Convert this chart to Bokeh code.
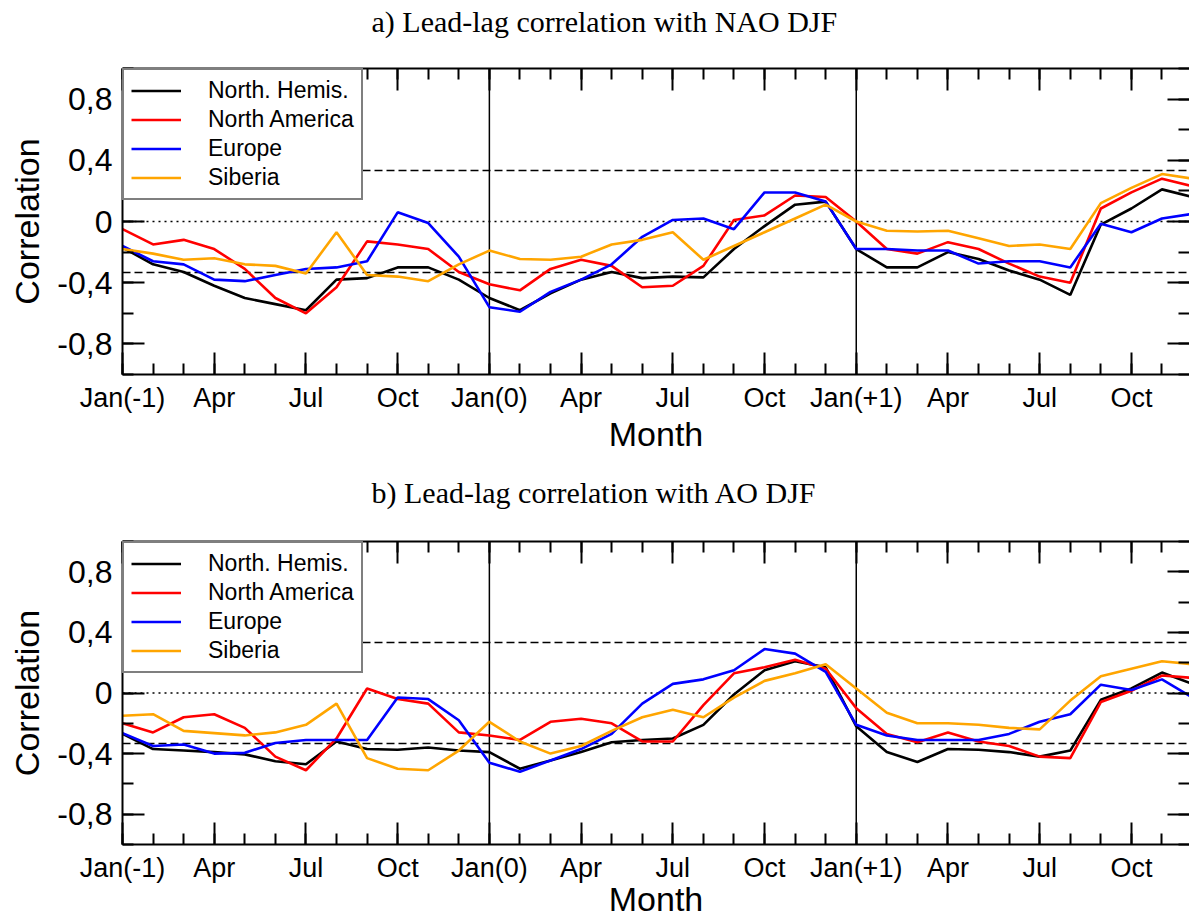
from bokeh.plotting import figure
from bokeh.models import (FixedTicker, LinearAxis, Span, Legend, LegendItem, Range1d, Title)
from bokeh.layouts import column
from bokeh.embed import file_html
from bokeh.resources import INLINE

# ---------------- data ----------------
months = list(range(36))  # Jan(-1) ... Dec(+1)
x_tick_positions = [0, 3, 6, 9, 12, 15, 18, 21, 24, 27, 30, 33]
x_tick_labels = ["Jan(-1)", "Apr", "Jul", "Oct", "Jan(0)", "Apr", "Jul", "Oct",
                 "Jan(+1)", "Apr", "Jul", "Oct"]
y_tick_positions = [-0.8, -0.4, 0, 0.4, 0.8]
y_tick_labels = ["-0,8", "-0,4", "0", "0,4", "0,8"]
y_minor_positions = [-1.0, -0.8, -0.6, -0.4, -0.2, 0, 0.2, 0.4, 0.6, 0.8, 1.0]
year_boundaries = [12, 24]
significance = 0.334

series_names = ["North. Hemis.", "North America", "Europe", "Siberia"]
series_colors = ["black", "red", "blue", "orange"]

nao_nh = [-0.17, -0.28, -0.33, -0.42, -0.50, -0.54, -0.58, -0.38, -0.37, -0.30, -0.30, -0.38,
          -0.50, -0.58, -0.47, -0.38, -0.33, -0.37, -0.36, -0.365, -0.18, -0.03, 0.11, 0.13,
          -0.18, -0.30, -0.30, -0.20, -0.245, -0.32, -0.38, -0.48, -0.02, 0.085, 0.21, 0.16]
nao_na = [-0.05, -0.15, -0.12, -0.18, -0.31, -0.50, -0.60, -0.43, -0.13, -0.15, -0.18, -0.33,
          -0.41, -0.45, -0.31, -0.25, -0.29, -0.43, -0.42, -0.29, 0.01, 0.04, 0.17, 0.16,
          0.0, -0.18, -0.21, -0.135, -0.18, -0.275, -0.36, -0.40, 0.085, 0.19, 0.28, 0.23]
nao_eu = [-0.16, -0.26, -0.28, -0.38, -0.39, -0.35, -0.31, -0.30, -0.26, 0.06, -0.01, -0.23,
          -0.56, -0.59, -0.46, -0.38, -0.28, -0.10, 0.01, 0.02, -0.05, 0.19, 0.19, 0.13,
          -0.18, -0.18, -0.19, -0.19, -0.275, -0.26, -0.26, -0.30, -0.015, -0.07, 0.02, 0.05]
nao_si = [-0.18, -0.21, -0.25, -0.24, -0.28, -0.29, -0.34, -0.07, -0.35, -0.36, -0.39, -0.28,
          -0.19, -0.245, -0.25, -0.23, -0.15, -0.12, -0.07, -0.25, -0.16, -0.07, 0.02, 0.11,
          0.0, -0.06, -0.065, -0.06, -0.11, -0.16, -0.15, -0.18, 0.12, 0.22, 0.31, 0.28]

ao_nh = [-0.27, -0.37, -0.38, -0.39, -0.405, -0.45, -0.47, -0.32, -0.37, -0.375, -0.36, -0.38,
         -0.39, -0.50, -0.445, -0.39, -0.325, -0.31, -0.30, -0.21, -0.01, 0.15, 0.21, 0.17,
         -0.22, -0.39, -0.455, -0.37, -0.375, -0.39, -0.42, -0.38, -0.045, 0.03, 0.135, 0.06]
ao_na = [-0.20, -0.26, -0.16, -0.14, -0.23, -0.42, -0.51, -0.30, 0.03, -0.04, -0.07, -0.26,
         -0.28, -0.31, -0.19, -0.17, -0.20, -0.32, -0.32, -0.08, 0.13, 0.17, 0.22, 0.16,
         -0.10, -0.27, -0.325, -0.26, -0.32, -0.35, -0.42, -0.43, -0.06, 0.015, 0.115, 0.10]
ao_eu = [-0.265, -0.35, -0.34, -0.40, -0.395, -0.33, -0.31, -0.31, -0.31, -0.03, -0.04, -0.18,
         -0.46, -0.52, -0.445, -0.37, -0.27, -0.07, 0.06, 0.09, 0.15, 0.29, 0.26, 0.14,
         -0.21, -0.28, -0.31, -0.31, -0.31, -0.27, -0.19, -0.14, 0.055, 0.02, 0.09, -0.03]
ao_si = [-0.15, -0.14, -0.25, -0.265, -0.28, -0.26, -0.21, -0.07, -0.43, -0.50, -0.51, -0.38,
         -0.19, -0.32, -0.40, -0.35, -0.25, -0.16, -0.11, -0.16, -0.03, 0.08, 0.13, 0.19,
         0.03, -0.13, -0.20, -0.20, -0.21, -0.23, -0.24, -0.05, 0.11, 0.16, 0.21, 0.19]

title_a = "a) Lead-lag correlation with NAO DJF"
title_b = "b) Lead-lag correlation with AO DJF"

SANS = "Liberation Sans"
SERIF = "Liberation Serif"


def style_ticks(ax, line=True):
    ax.axis_line_width = 2
    ax.axis_line_color = "black" if line else None
    ax.major_tick_line_color = "black"
    ax.minor_tick_line_color = "black"
    ax.major_tick_line_width = 2
    ax.minor_tick_line_width = 2
    ax.major_tick_in = 22
    ax.major_tick_out = 0
    ax.minor_tick_in = 11
    ax.minor_tick_out = 0
    ax.major_label_text_color = "black"
    ax.axis_label_text_color = "black"


def hide_labels(ax):
    ax.major_label_text_font_size = "0px"
    ax.major_label_text_color = None
    ax.major_label_standoff = 0


def make_panel(title, series, height, top, bottom, gap, label_standoff):
    p = figure(width=1189, height=height,
               x_range=Range1d(0, 34.9), y_range=Range1d(-1, 1),
               output_backend="svg", toolbar_location=None,
               min_border_left=122, min_border_right=0,
               min_border_top=top, min_border_bottom=bottom)
    p.title = None
    p.outline_line_color = None
    p.xgrid.visible = False
    p.ygrid.visible = False
    p.background_fill_color = "white"
    p.border_fill_color = "white"

    xt = FixedTicker(ticks=x_tick_positions, minor_ticks=months)
    yt = FixedTicker(ticks=y_tick_positions, minor_ticks=y_minor_positions)

    # bottom axis
    xa = p.xaxis[0]
    xa.ticker = xt
    xa.major_label_overrides = {t: l for t, l in zip(x_tick_positions, x_tick_labels)}
    xa.major_label_text_font = SANS
    xa.major_label_text_font_size = "27px"
    xa.major_label_standoff = 8
    style_ticks(xa)
    xa.axis_label = "Month"
    xa.axis_label_text_font = SANS
    xa.axis_label_text_font_size = "34px"
    xa.axis_label_text_font_style = "normal"
    xa.axis_label_standoff = label_standoff

    # left axis
    ya = p.yaxis[0]
    ya.ticker = yt
    ya.major_label_overrides = {t: l for t, l in zip(y_tick_positions, y_tick_labels)}
    ya.major_label_text_font = SANS
    ya.major_label_text_font_size = "32px"
    ya.major_label_standoff = 10
    ya.axis_label = "Correlation"
    ya.axis_label_text_font = SANS
    ya.axis_label_text_font_size = "34px"
    ya.axis_label_text_font_style = "normal"
    ya.axis_label_standoff = 8
    style_ticks(ya)

    # top axis (ticks only)
    ta = LinearAxis(ticker=xt)
    style_ticks(ta)
    hide_labels(ta)
    p.add_layout(ta, "above")

    # invisible spacer between the frame and the title
    spacer = LinearAxis(ticker=FixedTicker(ticks=[17.5], minor_ticks=[]))
    spacer.axis_line_color = None
    spacer.major_tick_line_color = None
    spacer.minor_tick_line_color = None
    spacer.major_tick_in = 0
    spacer.major_tick_out = gap
    spacer.minor_tick_in = 0
    spacer.minor_tick_out = 0
    hide_labels(spacer)
    p.add_layout(spacer, "above")

    ttl = Title(text=title, text_font=SERIF, text_font_size="30px",
                text_font_style="normal", text_color="black",
                align="left", offset=249, standoff=1)
    p.add_layout(ttl, "above")

    # right axis (ticks only)
    ra = LinearAxis(ticker=yt)
    style_ticks(ra, line=False)
    hide_labels(ra)
    p.add_layout(ra, "right")

    # reference lines
    for xb in year_boundaries:
        p.add_layout(Span(location=xb, dimension="height", line_color="black",
                          line_width=1.5, level="underlay"))
    for yv in (significance, -significance):
        p.add_layout(Span(location=yv, dimension="width", line_color="black",
                          line_width=1.5, line_dash="8 4", level="underlay"))
    p.add_layout(Span(location=0, dimension="width", line_color="black",
                      line_width=1.5, line_dash="2 4", level="underlay"))

    items = []
    for name, color, vals in zip(series_names, series_colors, series):
        r = p.line(months, vals, line_color=color, line_width=2.6)
        items.append(LegendItem(label=name, renderers=[r]))

    leg = Legend(items=items, location="top_left", margin=0, padding=7,
                 spacing=2, glyph_width=50, glyph_height=25, label_height=25,
                 label_standoff=27, label_text_font=SANS,
                 label_text_font_size="23px", label_text_color="black",
                 border_line_color="black",
                 border_line_width=2, background_fill_color="white",
                 background_fill_alpha=1.0)
    p.add_layout(leg)
    return p


pa = make_panel(title_a, [nao_nh, nao_na, nao_eu, nao_si], 471, 68, 97, 30, -1)
pb = make_panel(title_b, [ao_nh, ao_na, ao_eu, ao_si], 449, 70, 75, 32, -6)

layout = column(pa, pb, spacing=0)
open("out.html", "w").write(file_html(layout, INLINE))
